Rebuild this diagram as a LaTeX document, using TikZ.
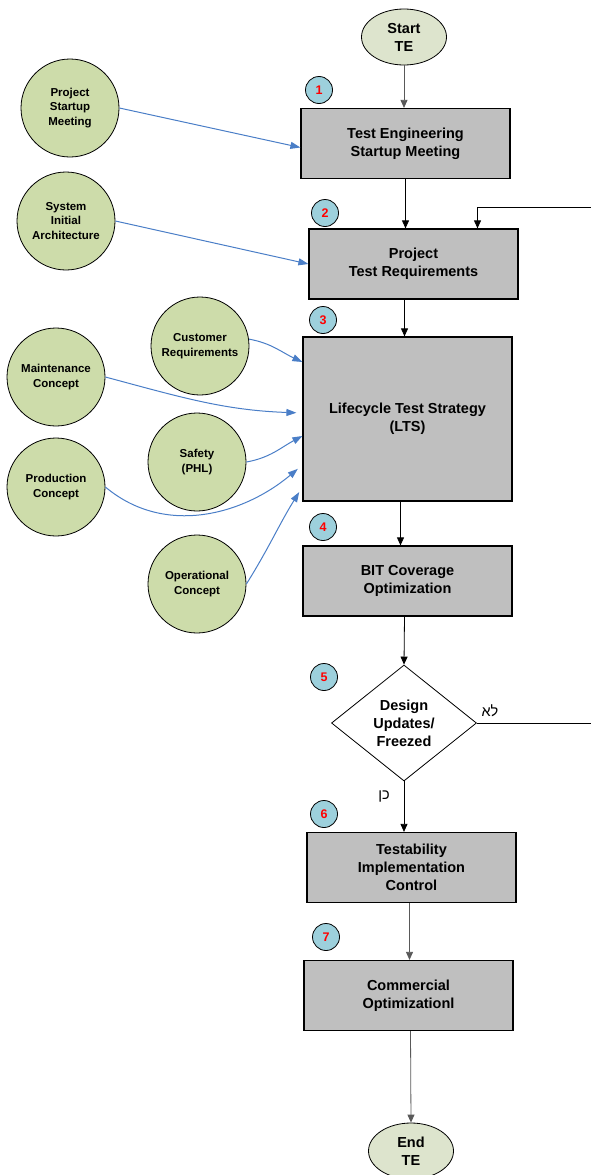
\documentclass[tikz,border=0pt]{standalone}
\usepackage{fontspec}
\setmainfont{Liberation Sans}
\newfontfamily\hebfont[Script=Hebrew]{Liberation Sans}
\TeXXeTstate=1
\usetikzlibrary{shapes.geometric,arrows.meta}
\definecolor{boxgray}{RGB}{191,191,191}
\definecolor{leaf}{RGB}{205,220,170}
\definecolor{pale}{RGB}{221,228,205}
\definecolor{badgeblue}{RGB}{157,208,220}
\definecolor{inblue}{RGB}{74,126,199}
\begin{document}
\begin{tikzpicture}[x=1pt,y=-1pt,
    stepbox/.style={draw,line width=1.2pt,fill=boxgray,minimum width=209pt,minimum height=70pt,
      align=center,font=\fontsize{14.5}{18}\selectfont\bfseries},
    term/.style={ellipse,draw,line width=0.8pt,fill=pale,minimum width=85pt,minimum height=56pt,
      inner sep=0pt,align=center,font=\fontsize{14.5}{18}\selectfont\bfseries},
    source/.style={circle,draw,line width=0.8pt,fill=leaf,minimum size=98pt,inner sep=0pt,
      align=center,font=\fontsize{11.5}{14.5}\selectfont\bfseries},
    badge/.style={circle,draw,line width=0.8pt,fill=badgeblue,minimum size=27pt,inner sep=0pt,
      text=red,font=\fontsize{12.5}{14}\selectfont\bfseries},
    flow/.style={line width=0.8pt,-{Triangle[length=8pt,width=7pt]}},
    greyflow/.style={flow,draw=black!65},
    feed/.style={line width=1pt,draw=inblue,-{Triangle[length=10pt,width=7pt]}}]
  \useasboundingbox (0,0) rectangle (590,1175);
  \node[term] (start) at (404,37) {Start\\TE};
  \node[stepbox] (tem) at (405.5,143.5) {Test Engineering\\Startup Meeting};
  \node[stepbox] (ptr) at (413.5,264) {Project\\Test Requirements};
  \node[stepbox,minimum height=164pt] (lts) at (407.5,419) {Lifecycle Test Strategy\\(LTS)};
  \node[stepbox] (bit) at (407.5,581) {BIT Coverage\\Optimization};
  \node[diamond,draw,line width=0.8pt,fill=white,minimum width=145pt,minimum height=116pt,
    inner sep=0pt,align=center,font=\fontsize{14.5}{18}\selectfont\bfseries] (dec) at (404,723)
    {Design\\Updates/\\Freezed};
  \node[stepbox] (tic) at (411.5,867.5) {Testability\\Implementation\\Control};
  \node[stepbox] (com) at (408.5,995.5) {Commercial\\Optimizationl};
  \node[term] (end) at (411,1151) {End\\TE};
  \node[badge] (b1) at (319,90) {1};
  \node[badge] (b2) at (325,213) {2};
  \node[badge] (b3) at (323,320) {3};
  \node[badge] (b4) at (323,527) {4};
  \node[badge] (b5) at (324,677) {5};
  \node[badge] (b6) at (324,814) {6};
  \node[badge] (b7) at (326,937) {7};
  \node[source] (psm) at (70,108) {Project\\Startup\\Meeting};
  \node[source] (sia) at (66,221) {System\\Initial\\Architecture};
  \node[source] (cust) at (200,346) {Customer\\Requirements};
  \node[source] (mnt) at (56,377) {Maintenance\\Concept};
  \node[source] (sfty) at (197,462) {Safety\\(PHL)};
  \node[source] (prod) at (56,487) {Production\\Concept};
  \node[source] (oper) at (197,584) {Operational\\Concept};
  \node[font=\fontsize{14.5}{18}\selectfont] (no) at (490,711) {\hebfont\beginR לא\endR};
  \node[font=\fontsize{14.5}{18}\selectfont] (yes) at (384,797) {\hebfont\beginR כן\endR};
  \coordinate (back) at (600,207);
  \begin{scope}
    \draw[greyflow] (start.south) -- (start.south |- tem.north);
    \draw[flow] (tem.south) -- (tem.south |- ptr.north);
    \draw[flow] ([xshift=-9pt]ptr.south) -- ([xshift=-9pt]ptr.south |- lts.north);
    \draw[flow] ([xshift=-7pt]lts.south) -- ([xshift=-7pt]lts.south |- bit.north);
    \draw[flow] ([xshift=-3pt]bit.south) -- (dec.north);
    \draw[flow] (dec.south) -- (dec.south |- tic.north);
    \draw[greyflow] ([xshift=-2pt]tic.south) -- ([xshift=-2pt]tic.south |- com.north);
    \draw[greyflow] ([xshift=2pt]com.south) -- (end.north);
    \draw[flow] (dec.east) -| (back) -| ([xshift=64pt]ptr.north);
  \end{scope}
  \begin{scope}
    \draw[feed] (psm.east) -- ([yshift=-4pt]tem.west);
    \draw[feed] (sia.east) -- (ptr.west);
    \draw[feed] (cust.8) to[out=-10,in=155] ([yshift=57pt]lts.west);
    \draw[feed,shorten >=6pt] (mnt.east) to[out=-15,in=178] ([yshift=6pt]lts.west);
    \draw[feed] (sfty.east) to[out=10,in=208] ([yshift=-17pt]lts.west);
    \draw[feed,shorten >=6pt] (prod.east) to[out=-40,in=220] ([yshift=-46pt]lts.west);
    \draw[feed,shorten >=6pt] (oper.east) to[out=58,in=238] ([yshift=-68pt]lts.west);
  \end{scope}
\end{tikzpicture}
\end{document}
